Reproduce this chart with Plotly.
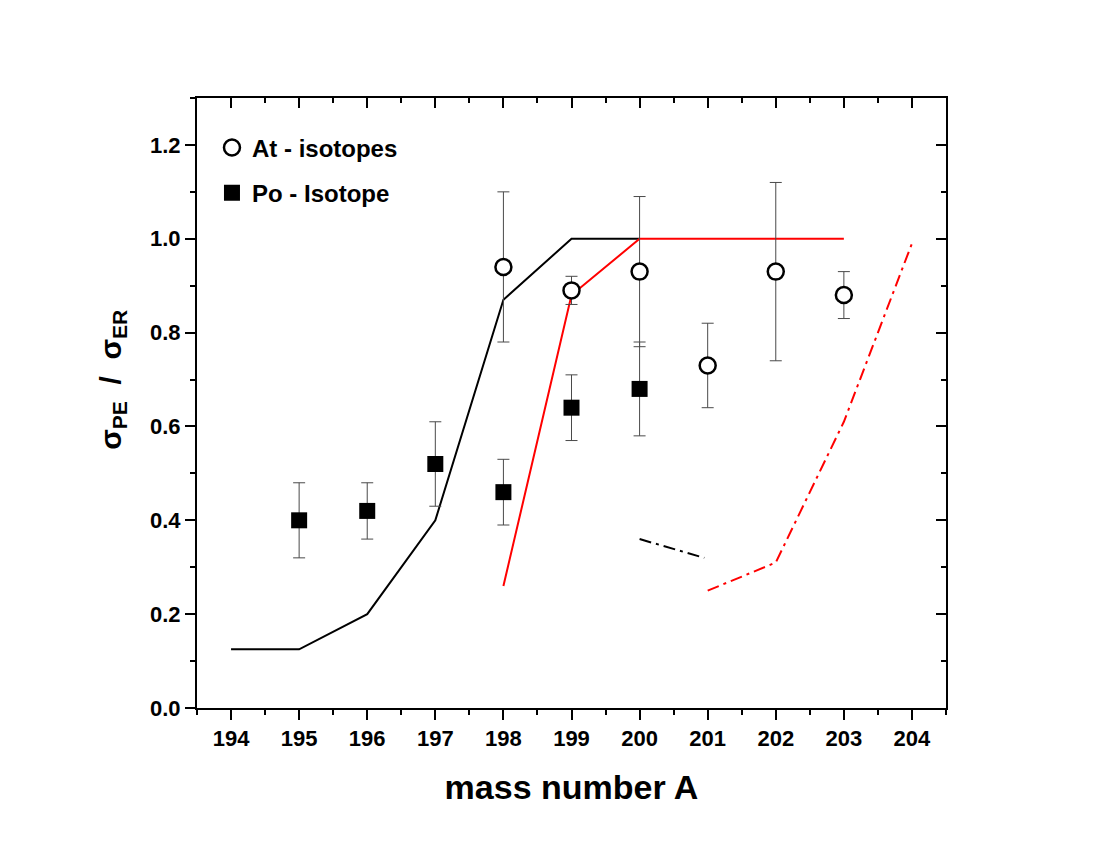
import plotly.graph_objects as go

# measured ratios, At isotopes (open circles)
at_mass = [198, 199, 200, 201, 202, 203]
at_ratio = [0.94, 0.89, 0.93, 0.73, 0.93, 0.88]
at_err_up = [0.16, 0.03, 0.16, 0.09, 0.19, 0.05]
at_err_dn = [0.16, 0.03, 0.16, 0.09, 0.19, 0.05]

# measured ratios, Po isotopes (filled squares)
po_mass = [195, 196, 197, 198, 199, 200]
po_ratio = [0.40, 0.42, 0.52, 0.46, 0.64, 0.68]
po_err_up = [0.08, 0.06, 0.09, 0.07, 0.07, 0.10]
po_err_dn = [0.08, 0.06, 0.09, 0.07, 0.07, 0.10]

# calculated curves
calc_black_x = [194, 195, 196, 197, 198, 199, 200]
calc_black_y = [0.125, 0.125, 0.20, 0.40, 0.87, 1.0, 1.0]
calc_red_x = [198, 199, 200, 201, 202, 203]
calc_red_y = [0.26, 0.88, 1.0, 1.0, 1.0, 1.0]
calc_black_dd_x = [200, 200.95]
calc_black_dd_y = [0.36, 0.32]
calc_red_dd_x = [201, 202, 203, 204]
calc_red_dd_y = [0.25, 0.31, 0.61, 0.99]

FONT = "Liberation Sans"
ERR_COL = "#4a4a4a"

traces = []
traces.append(go.Scatter(x=calc_black_x, y=calc_black_y, mode="lines",
                         line=dict(color="black", width=2), showlegend=False))
traces.append(go.Scatter(x=calc_red_x, y=calc_red_y, mode="lines",
                         line=dict(color="#ff0000", width=2), showlegend=False))
traces.append(go.Scatter(x=calc_black_dd_x, y=calc_black_dd_y, mode="lines",
                         line=dict(color="black", width=2, dash="12px,5px,3px,5px"),
                         showlegend=False))
traces.append(go.Scatter(x=calc_red_dd_x, y=calc_red_dd_y, mode="lines",
                         line=dict(color="#ff0000", width=2, dash="12px,5px,3px,5px"),
                         showlegend=False))
traces.append(go.Scatter(
    x=po_mass, y=po_ratio, mode="markers", name="Po - Isotope", legendgroup="po",
    legendrank=2,
    marker=dict(symbol="square", size=16, color="black", line=dict(width=0)),
    error_y=dict(type="data", array=po_err_up, arrayminus=po_err_dn,
                 color=ERR_COL, thickness=1, width=6)))
traces.append(go.Scatter(
    x=at_mass, y=at_ratio, mode="markers", name="At - isotopes", legendgroup="at",
    legendrank=1,
    marker=dict(symbol="circle", size=16, color="white",
                line=dict(color="black", width=2.5)),
    error_y=dict(type="data", array=at_err_up, arrayminus=at_err_dn,
                 color=ERR_COL, thickness=1, width=6)))
# invisible trace so the mirror axes get drawn
traces.append(go.Scatter(x=[199], y=[0.5], xaxis="x2", yaxis="y2", mode="markers",
                         marker=dict(opacity=0), showlegend=False, hoverinfo="skip"))

fig = go.Figure(data=traces)

axis_common = dict(showgrid=False, zeroline=False, showline=True, linecolor="black",
                   linewidth=2, tickcolor="black", tickwidth=2, ticklen=10)

fig.update_layout(
    width=1100, height=850,
    paper_bgcolor="white", plot_bgcolor="white",
    margin=dict(l=189, r=162, t=90, b=150),
    font=dict(family=FONT, color="black"),
    showlegend=True,
    legend=dict(x=0.02, y=0.955, xanchor="left", yanchor="top",
                font=dict(size=24, family=FONT, weight="bold"),
                tracegroupgap=11, bgcolor="rgba(0,0,0,0)"),
    xaxis=dict(range=[193.5, 204.5], dtick=1, tick0=194, ticks="outside",
               tickfont=dict(size=22, weight="bold"),
               minor=dict(ticks="outside", dtick=0.5, tick0=193.5, ticklen=5,
                          tickwidth=2, tickcolor="black"),
               title=dict(text="mass number A", font=dict(size=34, weight="bold"),
                          standoff=25),
               **axis_common),
    yaxis=dict(range=[0, 1.3], dtick=0.2, tick0=0, tickformat=".1f", ticks="outside",
               tickfont=dict(size=22, weight="bold"),
               minor=dict(ticks="outside", dtick=0.1, ticklen=5, tickwidth=2,
                          tickcolor="black"),
               **axis_common),
    xaxis2=dict(overlaying="x", side="top", range=[193.5, 204.5], dtick=1, tick0=194,
                ticks="inside", showticklabels=False,
                minor=dict(ticks="inside", dtick=0.5, tick0=193.5, ticklen=5,
                           tickwidth=2, tickcolor="black"),
                **axis_common),
    yaxis2=dict(overlaying="y", side="right", range=[0, 1.3], dtick=0.2, tick0=0,
                ticks="inside", showticklabels=False,
                minor=dict(ticks="inside", dtick=0.1, ticklen=5, tickwidth=2,
                           tickcolor="black"),
                **axis_common),
    annotations=[dict(
        text="σ<sub>PE</sub>  /  σ<sub>ER</sub>", textangle=-90,
        xref="paper", yref="paper", x=0, y=0.538, xanchor="center", yanchor="middle",
        xshift=-84, showarrow=False, font=dict(size=30, weight="bold", family=FONT))],
)

fig.write_html("out.html")
